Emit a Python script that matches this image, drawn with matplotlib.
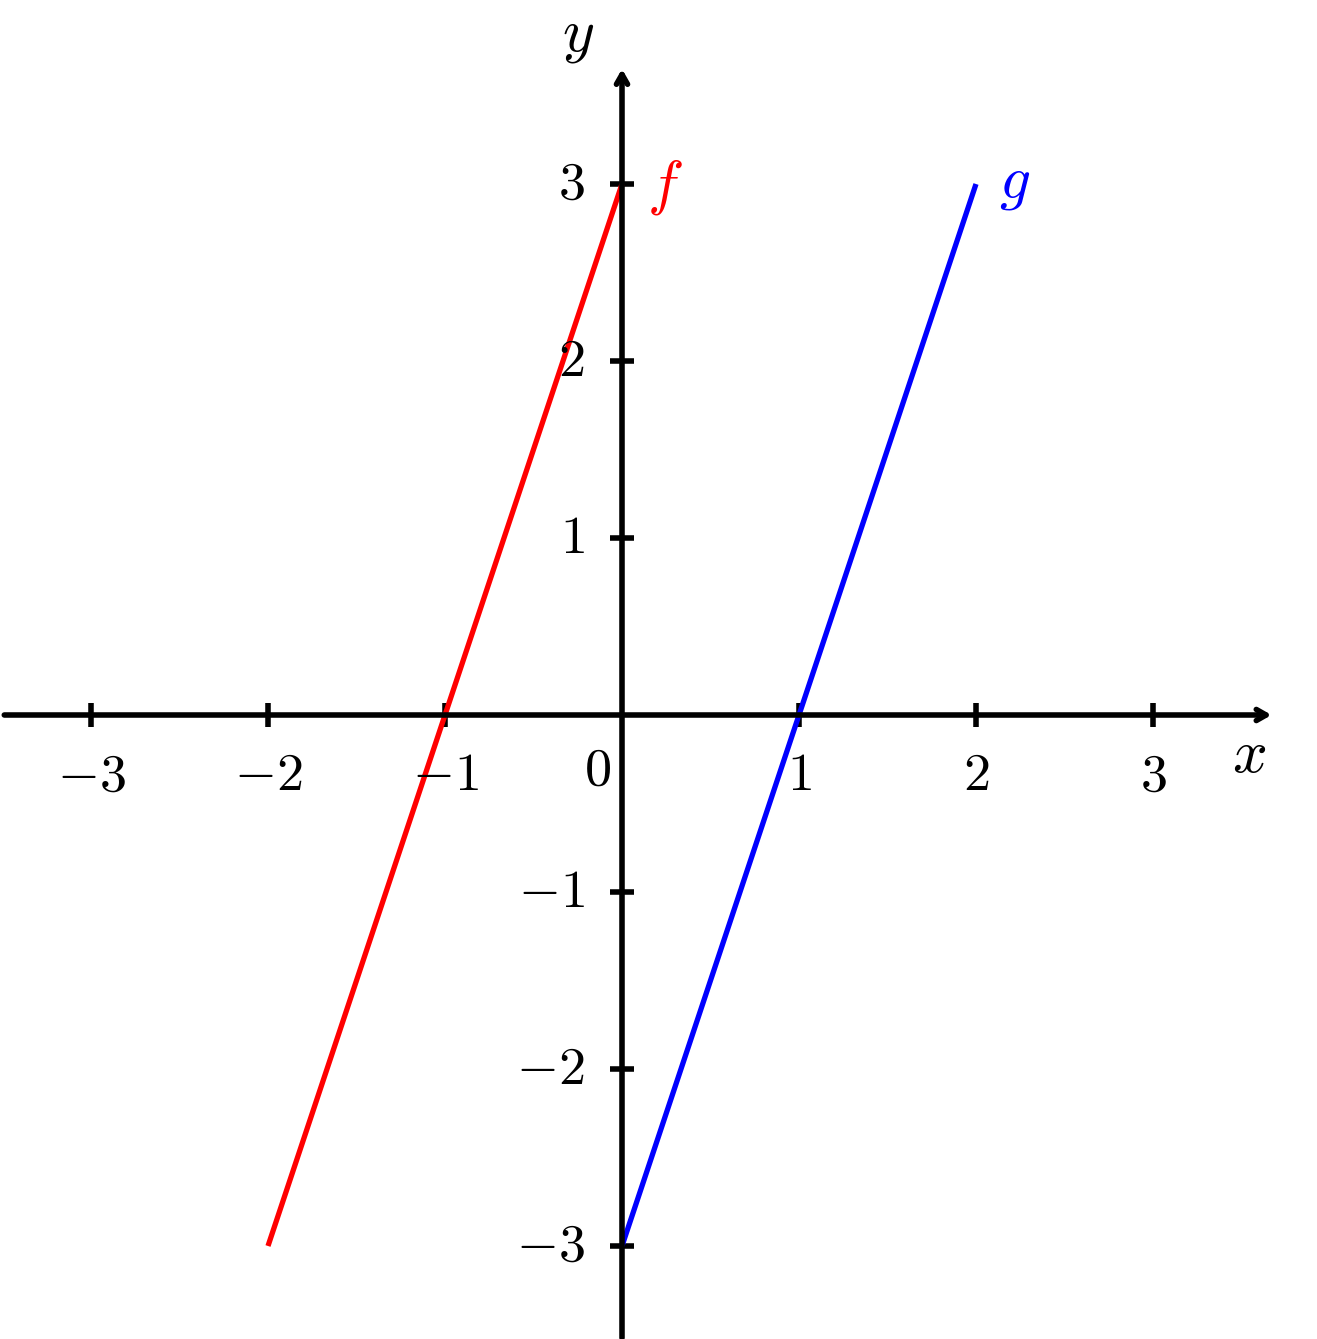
import numpy as np
import matplotlib.pyplot as plt

plt.rcParams['mathtext.fontset'] = 'cm'

# data
f_x = [-2, 0]
f_y = [-3, 3]
g_x = [0, 2]
g_y = [-3, 3]
x_ticks = [-3, -2, -1, 1, 2, 3]
y_ticks = [-3, -2, -1, 1, 2, 3]

fig = plt.figure(figsize=(13.17, 13.39), dpi=100)
ax = fig.add_axes([0, 0, 1, 1])
u = 177.0
ax.set_xlim(-622 / u, (1317 - 622) / u)
ax.set_ylim((715 - 1339) / u, 715 / u)
ax.axis('off')

lw = 4
fs = 39
fs2 = 44
arrow = dict(arrowstyle='->,head_length=0.7,head_width=0.4', lw=lw, color='black',
             shrinkA=0, shrinkB=0, capstyle='round', joinstyle='round')
ax.annotate('', xy=(3.67, 0), xytext=(-3.49, 0), arrowprops=arrow)
ax.annotate('', xy=(0, 3.65), xytext=(0, -3.52), arrowprops=arrow)

tl = 0.07
for x in x_ticks:
    ax.plot([x, x], [-tl, tl], color='black', lw=lw, solid_capstyle='butt')
    ax.text(x, -0.34, f'${x}$', fontsize=fs, ha='center', va='center')
for y in y_ticks:
    ax.plot([-tl, tl], [y, y], color='black', lw=lw, solid_capstyle='butt')
    ax.text(-0.21, y, f'${y}$', fontsize=fs, ha='right', va='center')
ax.text(-0.14, -0.31, '$0$', fontsize=fs, ha='center', va='center')

ax.plot(f_x, f_y, color='red', lw=3.8, solid_capstyle='butt')
ax.plot(g_x, g_y, color='blue', lw=3.8, solid_capstyle='butt')
ax.text(0.24, 2.98, '$f$', fontsize=fs2, color='red', ha='center', va='center')
ax.text(2.22, 3.01, '$g$', fontsize=fs2, color='blue', ha='center', va='center')

ax.text(3.54, -0.23, '$x$', fontsize=fs2, ha='center', va='center')
ax.text(-0.25, 3.84, '$y$', fontsize=fs2, ha='center', va='center')

fig.savefig('out.png', dpi=100)
